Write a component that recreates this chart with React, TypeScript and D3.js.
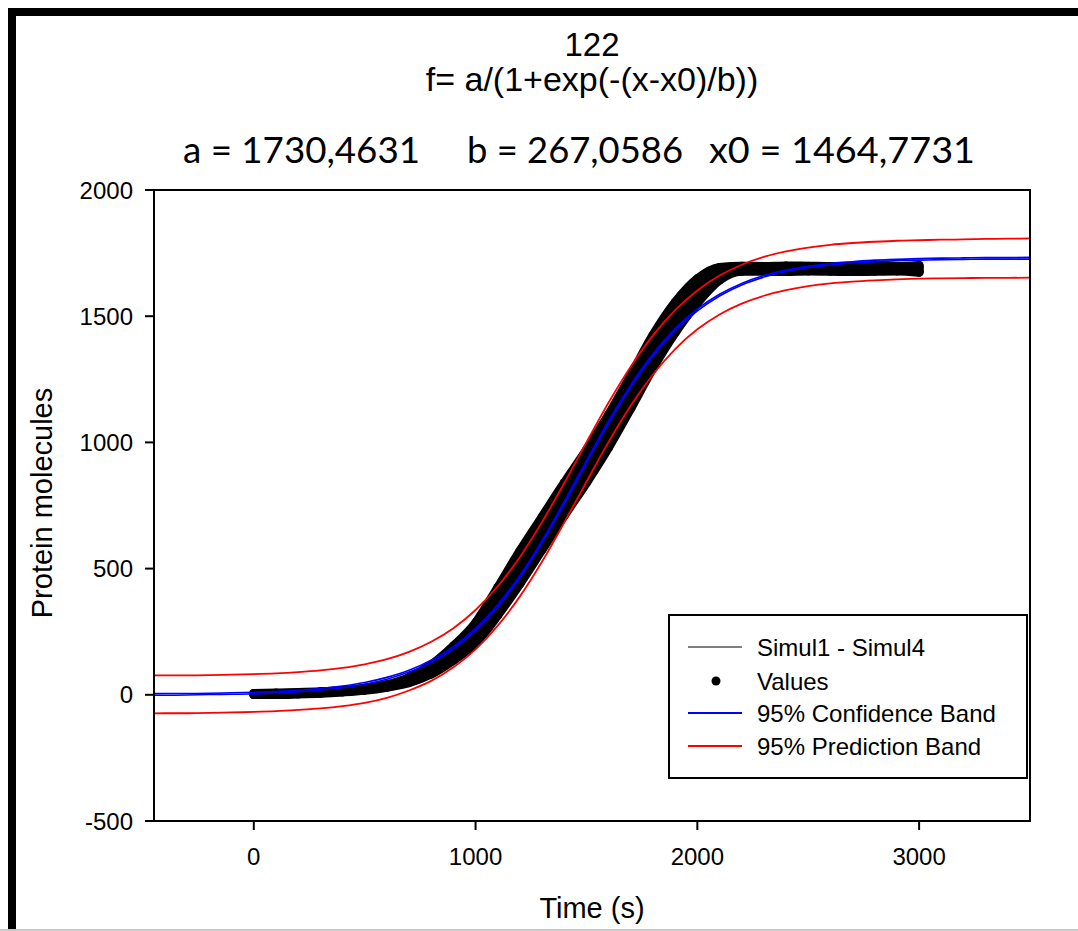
import React from 'react';
import * as d3 from 'd3';

// ---- data ----
const simTimes = [0, 100, 200, 300, 400, 500, 600, 700, 800, 900, 1000, 1100, 1200, 1300, 1400, 1500, 1600, 1700, 1800, 1900, 2000, 2100, 2200, 2300, 2400, 2500, 2600, 2700, 2800, 2900, 3000];
const simul1 = [5, 7, 9, 12, 17, 26, 40, 68, 118, 193, 285, 425, 570, 705, 840, 970, 1110, 1265, 1425, 1555, 1648, 1693, 1698, 1697, 1699, 1698, 1697, 1699, 1698, 1697, 1701];
const simul2 = [4, 5, 7, 10, 15, 23, 37, 61, 106, 174, 258, 388, 527, 662, 797, 927, 1067, 1222, 1382, 1515, 1616, 1676, 1691, 1690, 1692, 1691, 1690, 1691, 1692, 1690, 1693];
const simul3 = [2, 3, 5, 8, 13, 21, 33, 55, 94, 156, 232, 352, 483, 618, 753, 883, 1023, 1178, 1338, 1475, 1584, 1660, 1685, 1685, 1684, 1686, 1685, 1684, 1685, 1686, 1682];
const simul4 = [1, 1, 3, 6, 11, 18, 30, 48, 82, 137, 205, 315, 440, 575, 710, 840, 980, 1135, 1295, 1435, 1552, 1643, 1678, 1678, 1677, 1679, 1678, 1677, 1678, 1679, 1674];

const bandTimes = [-500, -400, -300, -200, -100, 0, 100, 200, 300, 400, 500, 600, 700, 800, 900, 1000, 1100, 1200, 1300, 1400, 1500, 1600, 1700, 1800, 1900, 2000, 2100, 2200, 2300, 2400, 2500, 2600, 2700, 2800, 2900, 3000, 3100, 3200, 3300, 3400, 3500];
const confUpper = [4, 5, 5, 6, 8, 10, 13, 18, 25, 35, 49, 69, 97, 137, 191, 263, 357, 473, 611, 766, 927, 1085, 1228, 1351, 1451, 1529, 1587, 1630, 1661, 1683, 1698, 1709, 1716, 1722, 1725, 1728, 1730, 1731, 1732, 1732, 1733];
const confLower = [-2, -2, -1, 1, 2, 4, 8, 12, 19, 28, 42, 62, 90, 128, 182, 254, 347, 464, 602, 756, 918, 1075, 1219, 1342, 1443, 1521, 1580, 1624, 1655, 1677, 1693, 1703, 1711, 1716, 1720, 1722, 1724, 1725, 1726, 1726, 1726];
const predUpper = [76, 77, 77, 78, 80, 82, 85, 90, 97, 107, 121, 141, 170, 210, 264, 336, 430, 546, 685, 839, 1000, 1158, 1301, 1424, 1524, 1602, 1661, 1704, 1735, 1757, 1772, 1783, 1790, 1795, 1799, 1801, 1803, 1804, 1806, 1807, 1808];
const predLower = [-74, -73, -73, -72, -70, -68, -65, -60, -54, -45, -32, -12, 17, 55, 109, 180, 274, 390, 528, 683, 844, 1002, 1146, 1269, 1370, 1448, 1507, 1550, 1581, 1603, 1619, 1630, 1637, 1642, 1646, 1649, 1650, 1651, 1652, 1652, 1653];

const xTicks = [0, 1000, 2000, 3000];
const yTicks = [-500, 0, 500, 1000, 1500, 2000];
const xDomain = [-450, 3500];
const yDomain = [-500, 2000];

const titleText = '122';
const formulaText = 'f= a/(1+exp(-(x-x0)/b))';
const paramTexts = ['a = 1730,4631', 'b = 267,0586', 'x0 = 1464,7731'];
const xTitle = 'Time (s)';
const yTitle = 'Protein molecules';
const legendLabels = ['Simul1 - Simul4', 'Values', '95% Confidence Band', '95% Prediction Band'];

const FONT = "'Liberation Sans', Arial, sans-serif";

export default function App() {
  const W = 1078;
  const H = 931;
  const L = 154, R = 1030, T = 190, B = 821;
  const x = d3.scaleLinear().domain(xDomain).range([L, R]);
  const y = d3.scaleLinear().domain(yDomain).range([B, T]);

  const sims = [simul1, simul2, simul3, simul4];
  const simLine = d3.line<number>()
    .x((_, i) => x(simTimes[i]))
    .y((d) => y(d))
    .curve(d3.curveMonotoneX);
  const bandLine = d3.line<number>()
    .x((_, i) => x(bandTimes[i]))
    .y((d) => y(d))
    .curve(d3.curveMonotoneX);

  const legendRows = [647, 681, 713, 746];
  const paramX = [183, 467, 709];
  const paramW = [237, 216, 266];

  return (
    <svg width={W} height={H} style={{ position: 'absolute', left: 0, top: 0, background: '#ffffff' }}>
      <rect x={0} y={0} width={W} height={H} fill="#ffffff" />
      {/* outer frame (left and top visible) */}
      <rect x={8} y={8} width={W - 8} height={8} fill="#000" />
      <rect x={8} y={8} width={8} height={H - 8} fill="#000" />
      <rect x={0} y={929} width={W} height={2} fill="#c8c8c8" />

      {/* titles */}
      <text x={592} y={56} textAnchor="middle" fontFamily={FONT} fontSize={33} fill="#000">{titleText}</text>
      <text x={592} y={91} textAnchor="middle" fontFamily={FONT} fontSize={34} fill="#000">{formulaText}</text>
      {paramTexts.map((t, i) => (
        <text key={t} x={paramX[i]} y={163} fontFamily="Lato, 'Open Sans', sans-serif" fontSize={37} fill="#000"
          textLength={paramW[i]} lengthAdjust="spacingAndGlyphs">{t}</text>
      ))}

      <defs>
        <clipPath id="plotClip">
          <rect x={L} y={T} width={R - L} height={B - T} />
        </clipPath>
      </defs>

      {/* data */}
      <g clipPath="url(#plotClip)">
        {sims.map((s, k) => (
          <path key={'thick' + k} d={simLine(s) || ''} fill="none" stroke="#000" strokeWidth={9}
            strokeLinejoin="round" strokeLinecap="round" />
        ))}
        {sims.map((s, k) => (
          <g key={'dots' + k}>
            {s.map((v, i) => (
              <circle key={i} cx={x(simTimes[i])} cy={y(v)} r={4.5} fill="#000" />
            ))}
          </g>
        ))}
        {sims.map((s, k) => (
          <path key={'thin' + k} d={simLine(s) || ''} fill="none" stroke="#000" strokeWidth={1} />
        ))}
        <path d={bandLine(confUpper) || ''} fill="none" stroke="#0000ff" strokeWidth={1.6} />
        <path d={bandLine(confLower) || ''} fill="none" stroke="#0000ff" strokeWidth={1.6} />
        <path d={bandLine(predUpper) || ''} fill="none" stroke="#ff0000" strokeWidth={1.8} />
        <path d={bandLine(predLower) || ''} fill="none" stroke="#ff0000" strokeWidth={1.8} />
      </g>

      {/* plot frame */}
      <rect x={L} y={T} width={R - L} height={B - T} fill="none" stroke="#000" strokeWidth={2} />

      {/* y axis ticks */}
      {yTicks.map((v) => (
        <g key={'y' + v}>
          <line x1={145} x2={L} y1={y(v)} y2={y(v)} stroke="#000" strokeWidth={2} />
          <text x={133} y={y(v) + 8.5} textAnchor="end" fontFamily={FONT} fontSize={24} fill="#000">{v}</text>
        </g>
      ))}
      {/* x axis ticks */}
      {xTicks.map((v) => (
        <g key={'x' + v}>
          <line x1={x(v)} x2={x(v)} y1={B} y2={830} stroke="#000" strokeWidth={2} />
          <text x={x(v)} y={865} textAnchor="middle" fontFamily={FONT} fontSize={24} fill="#000">{v}</text>
        </g>
      ))}

      <text x={592} y={918} textAnchor="middle" fontFamily={FONT} fontSize={29} fill="#000">{xTitle}</text>
      <text transform="translate(52,503) rotate(-90)" textAnchor="middle" fontFamily={FONT} fontSize={29} fill="#000">{yTitle}</text>

      {/* legend */}
      <rect x={669} y={615} width={358} height={163} fill="#fff" stroke="#000" strokeWidth={2} />
      <line x1={688} x2={742} y1={legendRows[0]} y2={legendRows[0]} stroke="#000" strokeWidth={1} />
      <circle cx={716} cy={legendRows[1]} r={4.5} fill="#000" />
      <line x1={688} x2={742} y1={legendRows[2]} y2={legendRows[2]} stroke="#0000ff" strokeWidth={2} />
      <line x1={688} x2={742} y1={legendRows[3]} y2={legendRows[3]} stroke="#ff0000" strokeWidth={2} />
      {legendLabels.map((t, i) => (
        <text key={t} x={757} y={legendRows[i] + 8.5} fontFamily={FONT} fontSize={24} fill="#000">{t}</text>
      ))}
    </svg>
  );
}
